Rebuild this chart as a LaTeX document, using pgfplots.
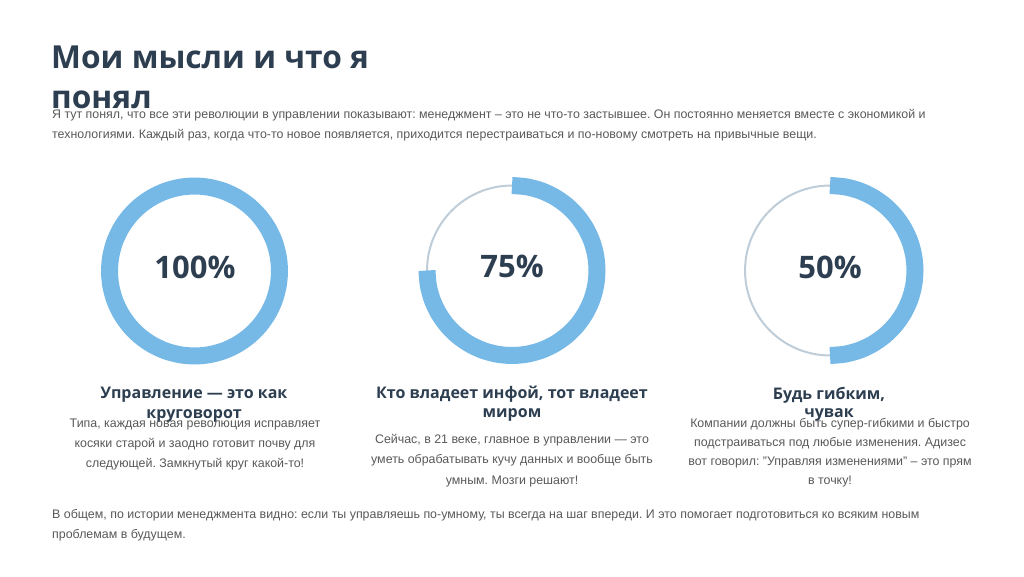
\documentclass[border=0pt]{standalone}
\usepackage{pgfplots}
\pgfplotsset{compat=1.18}
\usepackage{fontspec}
\setmainfont{Liberation Sans}
\newfontfamily\headfont{Open Sans}
\frenchspacing

\definecolor{ringblue}{RGB}{118,185,230}
\definecolor{ringgrey}{RGB}{190,205,216}
\definecolor{titlecol}{RGB}{44,62,80}
\definecolor{bodycol}{RGB}{88,88,88}

% one ring = one small hidden axis, (angle, radius) points in polar data cs
\pgfplotsset{
  ring/.style={
    hide axis, scale only axis, clip=false,
    width=170pt, height=170pt,
    xmin=-1, xmax=1, ymin=-1, ymax=1,
    anchor=origin,
  },
  track/.style={color=ringgrey, line width=2pt, smooth cycle, data cs=polar, mark=none},
  done/.style={color=ringblue, line width=17pt, line cap=butt, smooth, data cs=polar, mark=none},
}

\newcommand\lineL[3]{\node[anchor=base west, inner sep=0pt] at (#1,#2) {#3};}
\newcommand\lineC[3]{\node[anchor=base, inner sep=0pt] at (#1,#2) {#3};}

\begin{document}
\begin{tikzpicture}[x=1pt, y=1pt]
\useasboundingbox (0,0) rectangle (1024,576);

% 100 %
\begin{axis}[ring, at={(194.5pt,305pt)}]
\addplot[done, smooth cycle] coordinates {
(90,1)(80,1)(70,1)(60,1)(50,1)(40,1)(30,1)(20,1)(10,1)(0,1)
(-10,1)(-20,1)(-30,1)(-40,1)(-50,1)(-60,1)(-70,1)(-80,1)(-90,1)
(-100,1)(-110,1)(-120,1)(-130,1)(-140,1)(-150,1)(-160,1)(-170,1)(-180,1)
(-190,1)(-200,1)(-210,1)(-220,1)(-230,1)(-240,1)(-250,1)(-260,1)};
\end{axis}

% 75 %
\begin{axis}[ring, at={(512pt,305.5pt)}]
\addplot[track] coordinates {
(90,1)(80,1)(70,1)(60,1)(50,1)(40,1)(30,1)(20,1)(10,1)(0,1)
(-10,1)(-20,1)(-30,1)(-40,1)(-50,1)(-60,1)(-70,1)(-80,1)(-90,1)
(-100,1)(-110,1)(-120,1)(-130,1)(-140,1)(-150,1)(-160,1)(-170,1)(-180,1)
(-190,1)(-200,1)(-210,1)(-220,1)(-230,1)(-240,1)(-250,1)(-260,1)};
\addplot[done] coordinates {
(90,1)(80,1)(70,1)(60,1)(50,1)(40,1)(30,1)(20,1)(10,1)(0,1)
(-10,1)(-20,1)(-30,1)(-40,1)(-50,1)(-60,1)(-70,1)(-80,1)(-90,1)
(-100,1)(-110,1)(-120,1)(-130,1)(-140,1)(-150,1)(-160,1)(-170,1)(-180,1)};
\end{axis}

% 50 %
\begin{axis}[ring, at={(830pt,305.5pt)}]
\addplot[track] coordinates {
(90,1)(80,1)(70,1)(60,1)(50,1)(40,1)(30,1)(20,1)(10,1)(0,1)
(-10,1)(-20,1)(-30,1)(-40,1)(-50,1)(-60,1)(-70,1)(-80,1)(-90,1)
(-100,1)(-110,1)(-120,1)(-130,1)(-140,1)(-150,1)(-160,1)(-170,1)(-180,1)
(-190,1)(-200,1)(-210,1)(-220,1)(-230,1)(-240,1)(-250,1)(-260,1)};
\addplot[done] coordinates {
(90,1)(80,1)(70,1)(60,1)(50,1)(40,1)(30,1)(20,1)(10,1)(0,1)
(-10,1)(-20,1)(-30,1)(-40,1)(-50,1)(-60,1)(-70,1)(-80,1)(-90,1)};
\end{axis}

\begin{scope}[yshift=576pt, y=-1pt]
% title
\begin{scope}[color=titlecol, font=\headfont\bfseries\fontsize{31.7}{40}\selectfont]
\lineL{51}{69}{Мои мысли и что я}
\lineL{51}{109}{понял}
\end{scope}

% intro
\begin{scope}[color=bodycol, font=\fontsize{12.4}{20}\selectfont]
\lineL{52}{119}{Я тут понял, что все эти революции в управлении показывают: менеджмент – это не что-то застывшее. Он постоянно меняется вместе с экономикой и}
\lineL{52}{139}{технологиями. Каждый раз, когда что-то новое появляется, приходится перестраиваться и по-новому смотреть на привычные вещи.}
\end{scope}

% percentages
\begin{scope}[color=titlecol, font=\headfont\bfseries\fontsize{31}{36}\selectfont]
\lineC{195}{279}{100\%}
\lineC{512}{278}{75\%}
\lineC{830}{279}{50\%}
\end{scope}

% headings
\begin{scope}[color=titlecol, font=\headfont\bfseries\fontsize{16}{20}\selectfont]
\lineC{194}{398}{Управление — это как}
\lineC{194}{418}{круговорот}
\lineC{512}{398}{Кто владеет инфой, тот владеет}
\lineC{512}{417}{миром}
\lineC{829}{399}{Будь гибким,}
\lineC{829}{417}{чувак}
\end{scope}

% descriptions
\begin{scope}[color=bodycol, font=\fontsize{12.4}{20}\selectfont]
\lineC{195}{427}{Типа, каждая новая революция исправляет}
\lineC{195}{447}{косяки старой и заодно готовит почву для}
\lineC{195}{467}{следующей. Замкнутый круг какой-то!}
\lineC{512}{443}{Сейчас, в 21 веке, главное в управлении — это}
\lineC{512}{463}{уметь обрабатывать кучу данных и вообще быть}
\lineC{512}{484}{умным. Мозги решают!}
\lineC{830}{427}{Компании должны быть супер-гибкими и быстро}
\lineC{830}{446}{подстраиваться под любые изменения. Адизес}
\lineC{830}{465}{вот говорил: "Управляя изменениями" – это прям}
\lineC{830}{484}{в точку!}
\end{scope}

% closing
\begin{scope}[color=bodycol, font=\fontsize{12.4}{20}\selectfont]
\lineL{52}{518}{В общем, по истории менеджмента видно: если ты управляешь по-умному, ты всегда на шаг впереди. И это помогает подготовиться ко всяким новым}
\lineL{52}{538}{проблемам в будущем.}
\end{scope}
\end{scope}
\end{tikzpicture}
\end{document}
